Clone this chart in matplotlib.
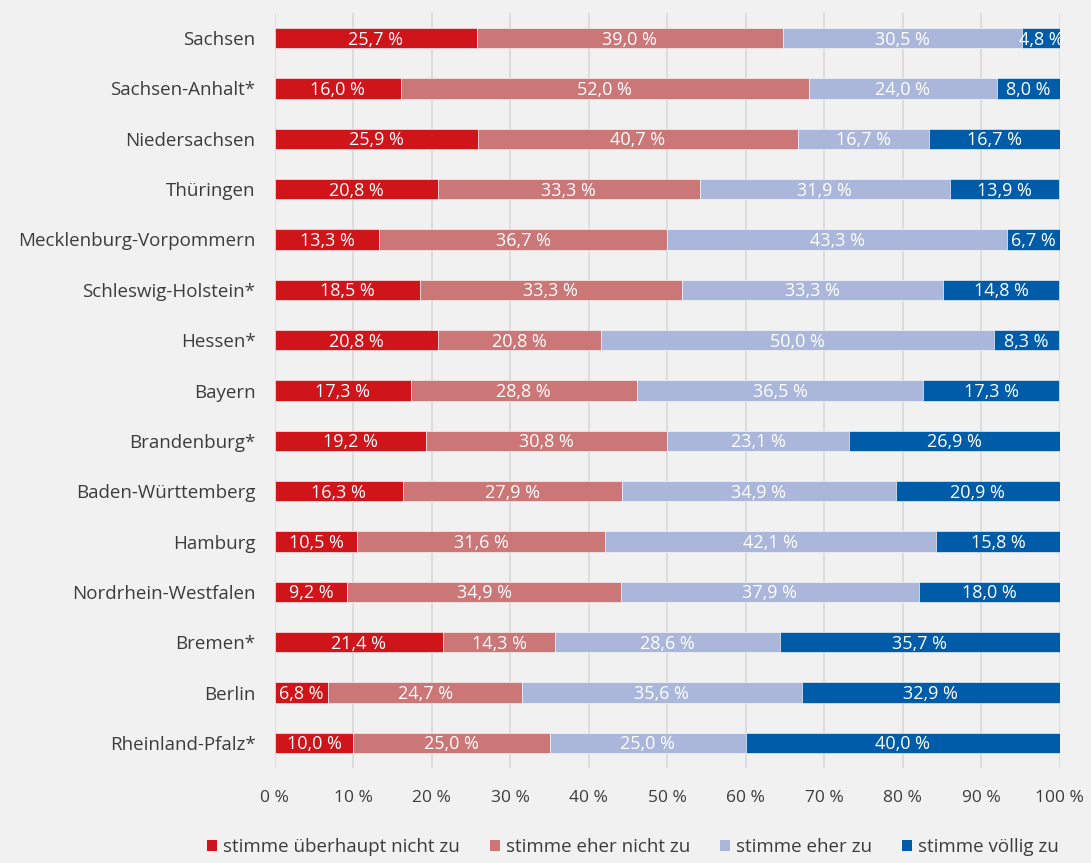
import matplotlib.pyplot as plt
from matplotlib.patches import Patch

plt.rcParams['font.family'] = ['Open Sans', 'DejaVu Sans']

laender = ['Sachsen', 'Sachsen-Anhalt*', 'Niedersachsen', 'Thüringen',
           'Mecklenburg-Vorpommern', 'Schleswig-Holstein*', 'Hessen*', 'Bayern',
           'Brandenburg*', 'Baden-Württemberg', 'Hamburg', 'Nordrhein-Westfalen',
           'Bremen*', 'Berlin', 'Rheinland-Pfalz*']

nicht_zu = [25.7, 16.0, 25.9, 20.8, 13.3, 18.5, 20.8, 17.3, 19.2, 16.3, 10.5, 9.2, 21.4, 6.8, 10.0]
eher_nicht = [39.0, 52.0, 40.7, 33.3, 36.7, 33.3, 20.8, 28.8, 30.8, 27.9, 31.6, 34.9, 14.3, 24.7, 25.0]
eher_zu = [30.5, 24.0, 16.7, 31.9, 43.3, 33.3, 50.0, 36.5, 23.1, 34.9, 42.1, 37.9, 28.6, 35.6, 25.0]
voellig_zu = [4.8, 8.0, 16.7, 13.9, 6.7, 14.8, 8.3, 17.3, 26.9, 20.9, 15.8, 18.0, 35.7, 32.9, 40.0]

serien = ['stimme überhaupt nicht zu', 'stimme eher nicht zu', 'stimme eher zu', 'stimme völlig zu']
farben = ['#cf141a', '#cb7677', '#aab7da', '#005ca9']

bg = '#f1f1f1'
textfarbe = '#3c3c3c'

fig = plt.figure(figsize=(10.91, 8.63), dpi=100, facecolor=bg)
ax = fig.add_axes([0.252, 0.110, 0.7195, 0.875], facecolor=bg)

y = list(range(len(laender)))
links = [0.0] * len(laender)
for werte, farbe in zip([nicht_zu, eher_nicht, eher_zu, voellig_zu], farben):
    bars = ax.barh(y, werte, left=links, height=0.4, color=farbe,
                   edgecolor='#ffffff', linewidth=0.4, zorder=3)
    for b, v in zip(bars, werte):
        ax.text(b.get_x() + b.get_width() / 2, b.get_y() + b.get_height() / 2 + 0.03,
                f'{v:.1f} %'.replace('.', ','), ha='center', va='center',
                color='white', fontsize=13, zorder=4)
    links = [l + v for l, v in zip(links, werte)]

ax.set_ylim(len(laender) - 0.5, -0.5)
ax.set_xlim(0, 100)
ax.set_yticks(y)
ax.set_yticklabels(laender, fontsize=13.5, color=textfarbe)
ax.set_xticks(range(0, 101, 10))
ax.set_xticklabels([f'{t} %' for t in range(0, 101, 10)], fontsize=12.5, color=textfarbe)
ax.tick_params(axis='y', length=0, pad=14)
ax.tick_params(axis='x', length=0, pad=16)
ax.grid(axis='x', color='#d8d8d8', linewidth=1.2, zorder=0)
for s in ax.spines.values():
    s.set_visible(False)

handles = [Patch(facecolor=f, edgecolor='none') for f in farben]
fig.legend(handles, serien, loc='center', bbox_to_anchor=(0.58, 0.018), ncol=4,
           frameon=False, fontsize=13.5, handlelength=0.55, handleheight=0.55,
           handletextpad=0.3, columnspacing=1.6, labelcolor=textfarbe)

fig.savefig('out.png', dpi=100, facecolor=bg)
